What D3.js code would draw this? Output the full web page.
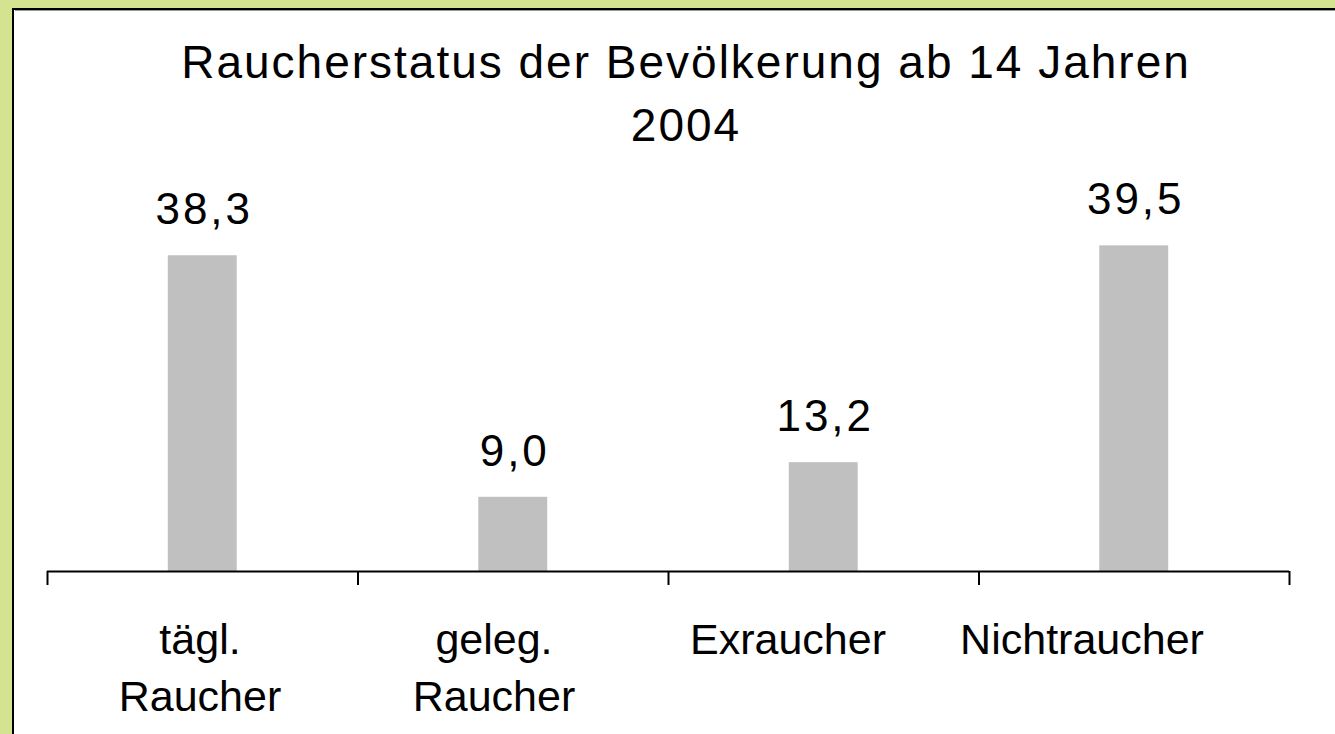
<!DOCTYPE html>
<html>
<head>
<meta charset="utf-8">
<script src="https://cdn.jsdelivr.net/npm/d3@7"></script>
<style>
html,body{margin:0;padding:0;background:#d4e38f;}
svg{display:block;}
text{font-family:"Liberation Sans",Arial,sans-serif;fill:#000;}
</style>
</head>
<body>
<svg id="chart" width="1335" height="734"></svg>
<script>
const categories = [["tägl.","Raucher"],["geleg.","Raucher"],["Exraucher"],["Nichtraucher"]];
const catKeys = ["tägl. Raucher","geleg. Raucher","Exraucher","Nichtraucher"];
const values = [38.3, 9.0, 13.2, 39.5];
const titleLines = ["Raucherstatus der Bevölkerung ab 14 Jahren","2004"];

const svg = d3.select("#chart");
const W = 1335, H = 734;

// background + frame
svg.append("rect").attr("x",0).attr("y",0).attr("width",W).attr("height",H).attr("fill","#d4e38f");
svg.append("rect").attr("x",13).attr("y",9).attr("width",W).attr("height",H)
  .attr("fill","#fff").attr("stroke","#000").attr("stroke-width",2);
svg.append("line").attr("x1",15).attr("x2",W).attr("y1",10.5).attr("y2",10.5).attr("stroke","#999").attr("stroke-width",1);

const x0 = 47, x1 = 1289, yBase = 571, yTop = 200;
const x = d3.scaleBand().domain(catKeys).range([x0,x1]).paddingInner(0.778).paddingOuter(0.389);
const y = d3.scaleLinear().domain([0,45]).range([yBase,yTop]);
const tickScale = d3.scaleLinear().domain([0,catKeys.length]).range([x0,x1]);
const labelX = d3.scalePoint().domain(catKeys).range([200,1082]);

// bars
svg.selectAll("rect.bar").data(values).enter().append("rect")
  .attr("class","bar")
  .attr("x",(d,i)=>x(catKeys[i]))
  .attr("width",x.bandwidth())
  .attr("y",d=>y(d))
  .attr("height",d=>yBase-y(d))
  .attr("fill","#c0c0c0");

// value labels
const fmt = v => d3.format(".1f")(v).replace(".",",");
svg.selectAll("text.val").data(values).enter().append("text")
  .attr("class","val")
  .attr("x",(d,i)=>x(catKeys[i])+x.bandwidth()/2+2)
  .attr("y",d=>y(d)-31)
  .attr("text-anchor","middle")
  .style("font-size","44px")
  .style("letter-spacing","3px")
  .text(fmt);

// axis
const axis = d3.axisBottom(tickScale).tickValues(d3.range(catKeys.length+1))
  .tickSize(14).tickSizeOuter(0).tickFormat("");
const g = svg.append("g").attr("transform",`translate(0,${yBase})`).call(axis);
g.selectAll("path,line").attr("stroke","#000").attr("stroke-width",2);
g.select(".domain").attr("d",`M${x0},0.5H${x1}`).attr("stroke-width",2);

// category labels
categories.forEach((lines,i)=>{
  const t = svg.append("text").attr("text-anchor","middle").style("font-size","43px");
  lines.forEach((ln,j)=>{
    t.append("tspan").attr("x",labelX(catKeys[i])).attr("y",654+j*57).text(ln);
  });
});

// title
const title = svg.append("text").attr("text-anchor","middle").style("font-size","46px").style("letter-spacing","2px");
titleLines.forEach((ln,j)=>{
  title.append("tspan").attr("x",686).attr("y",78+j*63).text(ln);
});
</script>
</body>
</html>
